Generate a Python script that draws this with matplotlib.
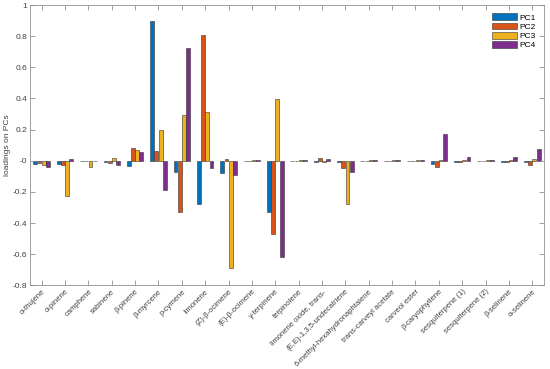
import numpy as np
import matplotlib
matplotlib.use('Agg')
import matplotlib.pyplot as plt

plt.rcParams['font.family'] = ['Liberation Sans', 'DejaVu Sans']

# compounds on the x axis
compounds = ['α-thujene', 'α-pinene', 'camphene', 'sabinene', 'β-pinene',
             'β-myrcene', 'p-cymene', 'limonene', '(Z)-β-ocimene', '(E)-β-ocimene',
             'γ-terpinene', 'terpinolene', 'limonene oxide, trans-',
             '(E,E)-1,3,5-undecatriene', '6-methyl-hexahydronaphtalene',
             'trans-carveyl acetate', 'carveol ester', 'β-caryophyllene',
             'sesquiterpene (1)', 'sesquiterpene (2)', 'β-selinene', 'α-selinene']

# loadings
pc1 = [-0.020, -0.020, -0.003, -0.010, -0.035, 0.895, -0.070, -0.280, -0.080, -0.002,
       -0.330, -0.002, -0.005, -0.010, -0.002, -0.002, -0.002, -0.020,
       -0.005, -0.002, -0.005, -0.005]
pc2 = [-0.012, -0.025, -0.003, -0.015, 0.080, 0.060, -0.330, 0.810, 0.012, -0.002,
       -0.470, -0.002, 0.015, -0.047, -0.002, -0.002, -0.002, -0.039,
       -0.005, -0.002, -0.005, -0.026]
pc3 = [-0.030, -0.225, -0.040, 0.020, 0.070, 0.200, 0.295, 0.315, -0.690, 0.002,
       0.395, 0.002, -0.010, -0.280, 0.002, 0.002, 0.002, 0.002,
       0.002, 0.002, 0.002, 0.010]
pc4 = [-0.043, 0.010, -0.003, -0.030, 0.055, -0.190, 0.724, -0.045, -0.090, 0.002,
       -0.620, 0.002, 0.010, -0.070, 0.002, 0.002, 0.002, 0.169,
       0.025, 0.002, 0.025, 0.073]

series = [pc1, pc2, pc3, pc4]
names = ['PC1', 'PC2', 'PC3', 'PC4']
colors = ['#0072BD', '#D95319', '#EDB120', '#7E2F8E']

fig = plt.figure(figsize=(5.5, 3.69), dpi=100)
ax = fig.add_axes([0.0545, 0.2268, 0.9345, 0.7596])

x = np.arange(1, len(compounds) + 1)
w = 0.18
for i, (vals, name, col) in enumerate(zip(series, names, colors)):
    ax.bar(x + (i - 1.5) * w, vals, width=w * 0.92, color=col, edgecolor='#333333',
           linewidth=0.4, label=name)

ax.set_xlim(0.5, len(compounds) + 0.5)
ax.set_ylim(-0.8, 1.0)
ax.set_xticks(x)
ax.set_xticklabels(compounds, rotation=45, ha='right', va='top',
                   rotation_mode='anchor', fontsize=5.5, color='#404040')
yt = np.round(np.arange(-0.8, 1.01, 0.2), 1)
ax.set_yticks(yt)
ax.set_yticklabels(['{:g}'.format(v) for v in yt], fontsize=6, color='#404040')
ax.set_ylabel('loadings on PCs', fontsize=6, color='#404040', labelpad=1)

for s in ax.spines.values():
    s.set_color('#909090')
    s.set_linewidth(0.6)
ax.tick_params(direction='in', length=3.5, width=0.6, color='#909090',
               top=True, right=True, pad=2)

ax.legend(loc='upper right', fontsize=6, frameon=False, handlelength=3.0,
          handleheight=0.9, handletextpad=0.3, labelspacing=0.1,
          borderaxespad=0.6)

fig.savefig('out.png', dpi=100)
